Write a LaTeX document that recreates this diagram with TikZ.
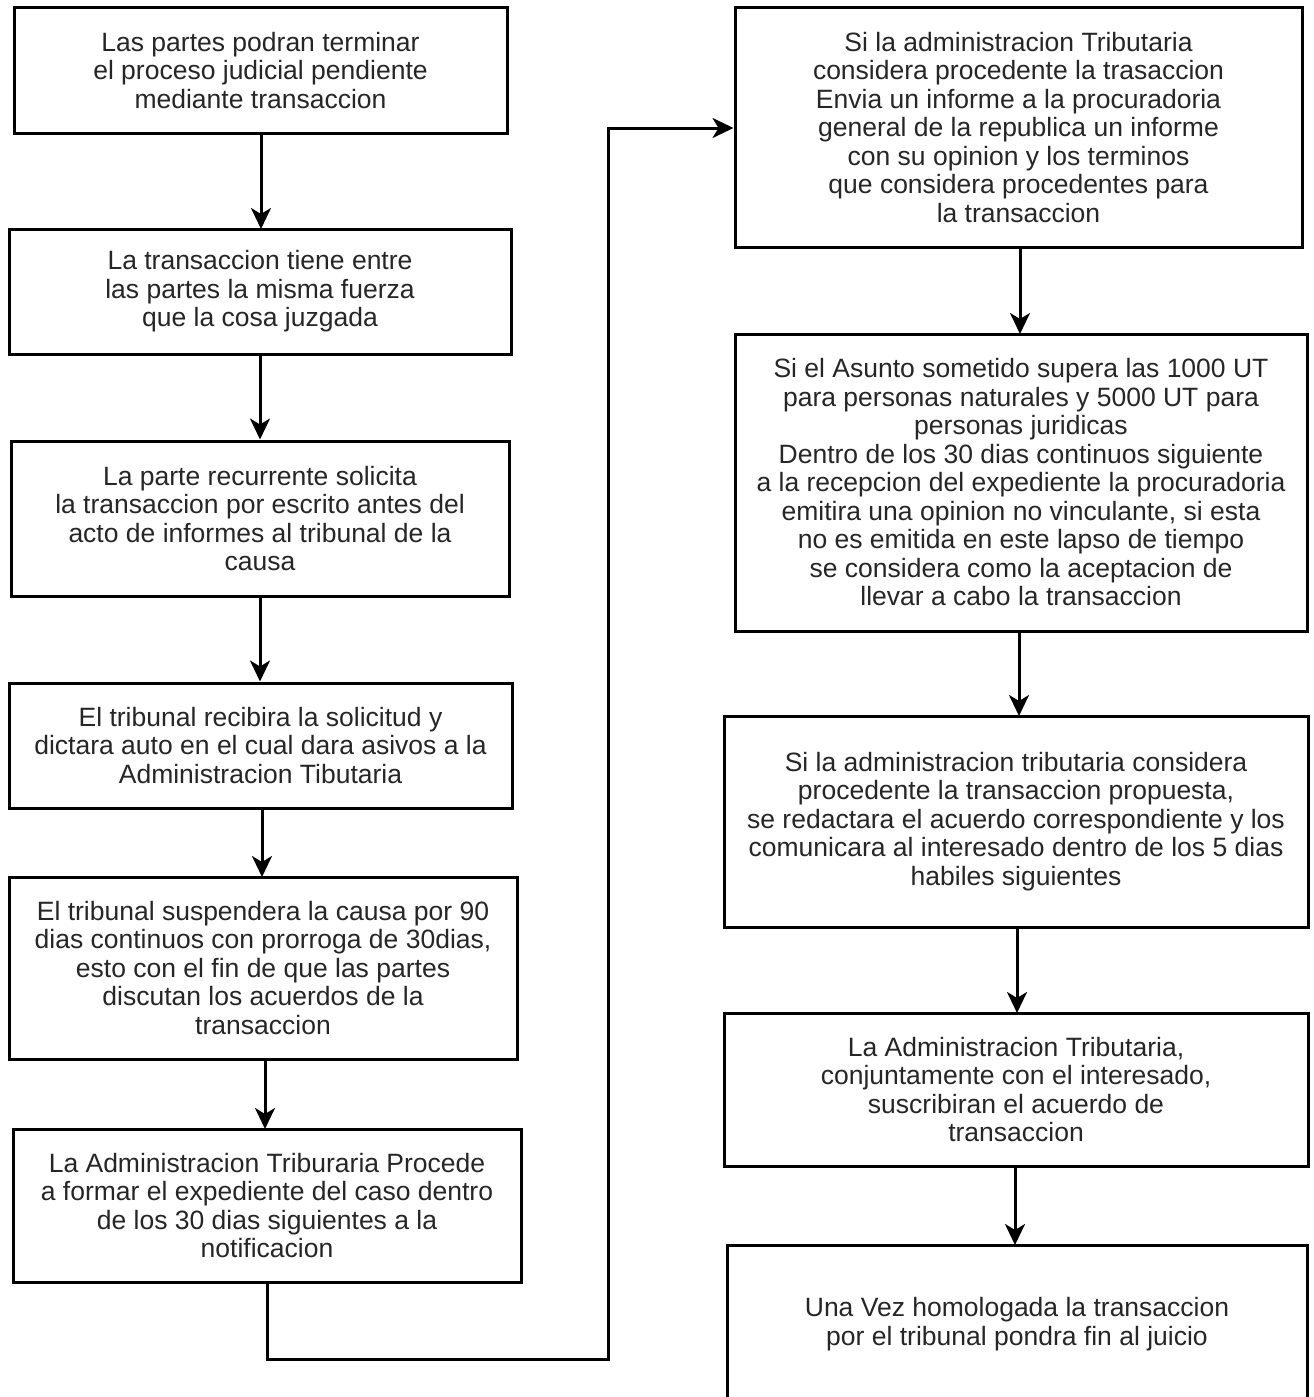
\documentclass[tikz,border=0pt]{standalone}
\usepackage{fontspec}
\setmainfont{Liberation Sans}
\usetikzlibrary{arrows.meta}
\begin{document}
\begin{tikzpicture}[x=1pt,y=-1pt,
  stepbox/.style={draw=black, line width=3pt, inner sep=0pt, align=center,
    text=black!85, font=\fontsize{26.5}{28.5}\selectfont},
  plaintext/.style={inner sep=0pt, align=center, text=black!85,
    font=\fontsize{26.5}{28.5}\selectfont},
  arr/.style={line width=3pt, -{Stealth[length=21pt,width=20pt,inset=6pt]}},
  edge/.style={line width=3pt}]
\useasboundingbox (0,0) rectangle (1314,1397);
\fill[white] (0,0) rectangle (1314,1397);

% left column
\node[stepbox, minimum width=493pt, minimum height=125pt] (b1) at (260.5,70.5)
  {Las partes podran terminar\\el proceso judicial pendiente\\mediante transaccion};
\node[stepbox, minimum width=502pt, minimum height=125pt] (b2) at (260,291.5)
  {La transaccion tiene entre\\las partes la misma fuerza\\que la cosa juzgada};
\node[stepbox, minimum width=498pt, minimum height=155pt] (b3) at (260,518.5)
  {La parte recurrente solicita\\la transaccion por escrito antes del\\acto de informes al tribunal de la\\causa};
\node[stepbox, minimum width=503pt, minimum height=125pt] (b4) at (260.5,745.5)
  {El tribunal recibira la solicitud y\\dictara auto en el cual dara asivos a la\\Administracion Tibutaria};
\node[stepbox, minimum width=508pt, minimum height=182pt] (b5) at (263,968)
  {El tribunal suspendera la causa por 90\\dias continuos con prorroga de 30dias,\\esto con el fin de que las partes\\discutan los acuerdos de la\\transaccion};
\node[stepbox, minimum width=508pt, minimum height=153pt] (b6) at (267,1205.5)
  {La Administracion Triburaria Procede\\a formar el expediente del caso dentro\\de los 30 dias siguientes a la\\notificacion};

% right column
\node[stepbox, minimum width=567pt, minimum height=239pt] (b7) at (1018.5,127.5)
  {Si la administracion Tributaria\\considera procedente la trasaccion\\Envia un informe a la procuradoria\\general de la republica un informe\\con su opinion y los terminos\\que considera procedentes para\\la transaccion};
\node[stepbox, minimum width=572pt, minimum height=297pt] (b8) at (1021,482.5)
  {Si el Asunto sometido supera las 1000 UT\\para personas naturales y 5000 UT para\\personas juridicas\\Dentro de los 30 dias continuos siguiente\\a la recepcion del expediente la procuradoria\\emitira una opinion no vinculante, si esta\\no es emitida en este lapso de tiempo\\se considera como la aceptacion de\\llevar a cabo la transaccion};
\node[stepbox, minimum width=584pt, minimum height=211pt] (b9) at (1016,821.5)
  {Si la administracion tributaria considera\\procedente la transaccion propuesta,\\se redactara el acuerdo correspondiente y los\\comunicara al interesado dentro de los 5 dias\\habiles siguientes};
\node[stepbox, minimum width=584pt, minimum height=153pt] (b10) at (1016,1089.5)
  {La Administracion Tributaria,\\conjuntamente con el interesado,\\suscribiran el acuerdo de\\transaccion};
\node[plaintext] (b11) at (1017,1324)
  {Una Vez homologada la transaccion\\por el tribunal pondra fin al juicio};
\coordinate (t11) at (1015,1245);
\draw[edge] (727,1400) -- (727,1245) -- (1307,1245) -- (1307,1400);

% connectors
\draw[arr] (261,133) -- (261,229);
\draw[arr] (b2.south) -- (b2.south |- b3.north);
\draw[arr] (b3.south) -- (b3.south |- b4.north);
\draw[arr] (262,808) -- (262,877);
\draw[arr] (265,1059) -- (265,1129);
\coordinate (c1) at (267,1359);
\coordinate (c2) at (608,1359);
\coordinate (c3) at (608,128);
\draw[arr] (b6.south) -- (c1) -- (c2) -- (c3) -- (c3 -| b7.west);

\draw[arr] (1020,247) -- (1020,334);
\draw[arr] (1019,631) -- (1019,716);
\draw[arr] (1017,927) -- (1017,1013);
\draw[arr] (b10.south -| t11) -- (t11);
\end{tikzpicture}
\end{document}
